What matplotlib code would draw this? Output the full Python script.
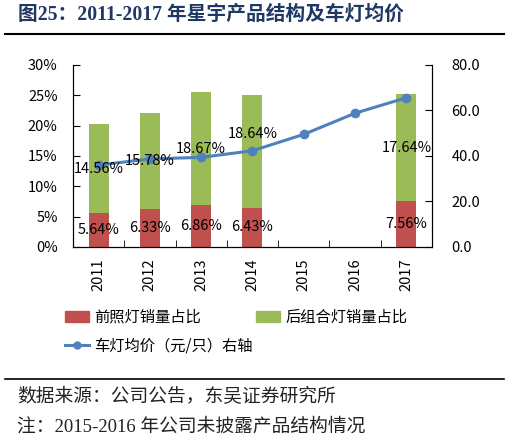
import numpy as np
import matplotlib
matplotlib.use('Agg')
import matplotlib.pyplot as plt
from matplotlib.patches import Patch
from matplotlib.lines import Line2D

plt.rcParams['font.family'] = ['Noto Sans CJK SC', 'DejaVu Sans']

years = ['2011', '2012', '2013', '2014', '2015', '2016', '2017']
front = [5.64, 6.33, 6.86, 6.43, np.nan, np.nan, 7.56]
rear = [14.56, 15.78, 18.67, 18.64, np.nan, np.nan, 17.64]
price = [36.0, 38.7, 39.4, 42.3, 49.5, 58.8, 65.6]
# 2014 rear label sits higher in the original, above the line
rear_lift = [0, 0, 0, 2.9, 0, 0, 0]

red = '#C0504D'
green = '#9BBB59'
blue = '#4F81BD'

fig = plt.figure(figsize=(5.09, 4.42), dpi=100)
ax = fig.add_axes([0.1434, 0.4412, 0.7053, 0.4118])
ax2 = ax.twinx()

x = np.arange(len(years))
w = 0.39
ax.bar(x, front, w, color=red, zorder=2)
ax.bar(x, rear, w, bottom=front, color=green, zorder=2)

ax2.plot(x, price, color=blue, lw=2.2, marker='o', ms=6, zorder=3)
for i in range(len(years)):
    if np.isnan(front[i]):
        continue
    ax2.text(x[i], front[i] / 2, f'{front[i]:.2f}%', ha='center', va='center',
             fontsize=10.5, zorder=5, transform=ax.transData)
    ax2.text(x[i], front[i] + rear[i] / 2 + rear_lift[i], f'{rear[i]:.2f}%', ha='center',
             va='center', fontsize=10.5, zorder=5, transform=ax.transData)

ax.set_xlim(-0.5, len(years) - 0.5)
ax.set_ylim(0, 30)
ax.set_yticks(range(0, 31, 5))
ax.set_yticklabels([f'{v}%' for v in range(0, 31, 5)])
ax2.set_ylim(0, 80)
ax2.set_yticks(range(0, 81, 20))
ax2.set_yticklabels([f'{v:.1f}' for v in range(0, 81, 20)])

ax.set_xticks(x)
ax.set_xticklabels(years, rotation=90)
ax.set_xticks(np.arange(0.5, len(years) - 1, 1), minor=True)
ax.tick_params(axis='x', which='major', length=0, pad=8, labelsize=10.5)
ax.tick_params(axis='x', which='minor', direction='in', length=5)
ax.tick_params(axis='y', direction='in', length=5, pad=11, labelsize=10.5)
ax2.tick_params(axis='y', direction='in', length=5, pad=14, labelsize=10.5)
for a in (ax, ax2):
    a.spines['top'].set_visible(False)

handles = [Patch(color=red), Line2D([], [], color=blue, lw=2.2, marker='o', ms=5),
           Patch(color=green)]
labels = ['前照灯销量占比', '车灯均价（元/只）右轴', '后组合灯销量占比']
fig.legend(handles, labels, ncol=2, loc='upper left', bbox_to_anchor=(0.1, 0.332),
           frameon=False, fontsize=11, handlelength=1.6, columnspacing=0.2,
           handletextpad=0.35, labelspacing=0.75)

fig.text(0.036, 0.966, '图25：2011-2017 年星宇产品结构及车灯均价', fontsize=14.2, fontweight='bold',
         color='#1F3864', va='center', family=['Liberation Serif', 'Noto Sans CJK SC'])
fig.add_artist(Line2D([0.01, 0.99], [0.923, 0.923], color='black', lw=1.5))
fig.add_artist(Line2D([0.01, 0.99], [0.142, 0.142], color='black', lw=1.2))
fig.text(0.034, 0.101, '数据来源：公司公告，东吴证券研究所', fontsize=13.5, va='center',
         color='#222222', family=['Liberation Serif', 'Noto Sans CJK SC'])
fig.text(0.034, 0.034, '注：2015-2016 年公司未披露产品结构情况', fontsize=13.5, va='center',
         color='#222222', family=['Liberation Serif', 'Noto Sans CJK SC'])

fig.savefig('out.png', dpi=100)
